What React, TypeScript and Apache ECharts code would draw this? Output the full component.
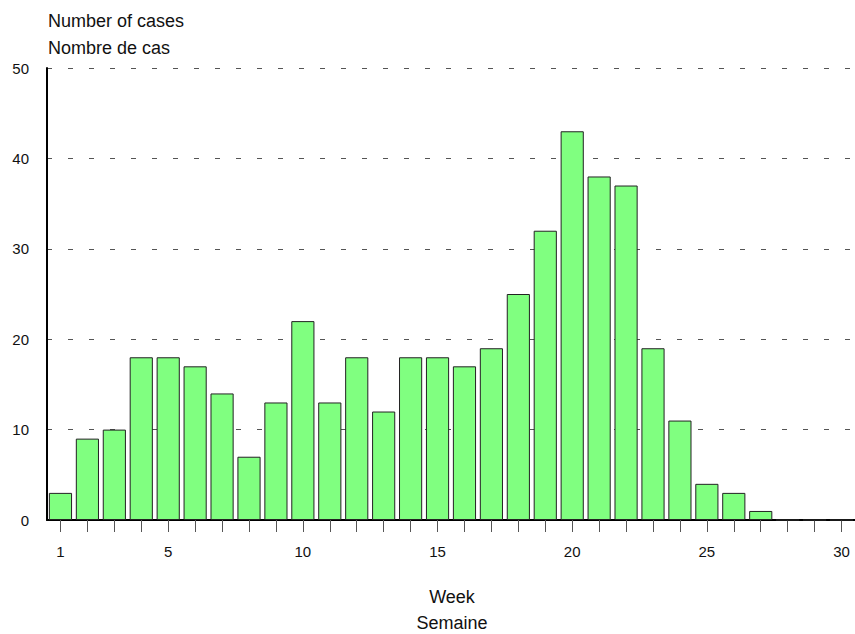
import React, { useEffect, useRef } from "react";
import * as echarts from "echarts";

const weeks = Array.from({ length: 30 }, (_, i) => String(i + 1));
const cases = [3, 9, 10, 18, 18, 17, 14, 7, 13, 22, 13, 18, 12, 18, 18, 17, 19, 25, 32, 43, 38, 37, 19, 11, 4, 3, 1, 0, 0, 0];
const shownLabels = ["1", "5", "10", "15", "20", "25", "30"];
const yTitleLines = ["Number of cases", "Nombre de cas"];
const xTitleLines = ["Week", "Semaine"];

const FONT = "Liberation Sans, Arial, sans-serif";

export default function App() {
  const ref = useRef<HTMLDivElement>(null);
  useEffect(() => {
    if (!ref.current) return;
    const chart = echarts.init(ref.current, null, { renderer: "svg" });
    chart.setOption({
      animation: false,
      backgroundColor: "#ffffff",
      grid: { left: 47, right: 0, top: 68, bottom: 114, containLabel: false },
      graphic: [
        { type: "text", x: 48, y: 21, style: { text: yTitleLines[0], font: `18px ${FONT}`, fill: "#111", verticalAlign: "middle" } },
        { type: "text", x: 48, y: 48, style: { text: yTitleLines[1], font: `18px ${FONT}`, fill: "#111", verticalAlign: "middle" } },
        { type: "text", x: 452, y: 597, style: { text: xTitleLines[0], font: `18px ${FONT}`, fill: "#111", align: "center", verticalAlign: "middle" } },
        { type: "text", x: 452, y: 623, style: { text: xTitleLines[1], font: `18px ${FONT}`, fill: "#111", align: "center", verticalAlign: "middle" } },
      ],
      xAxis: {
        type: "category",
        data: weeks,
        boundaryGap: true,
        axisLine: { show: true, lineStyle: { color: "#000", width: 2 } },
        axisTick: { show: true, alignWithLabel: true, interval: 0, length: 12, inside: false, lineStyle: { color: "#555", width: 1 } },
        axisLabel: {
          interval: (_i: number, v: string) => shownLabels.includes(v),
          margin: 24,
          fontSize: 15,
          fontFamily: FONT,
          color: "#111",
        },
        splitLine: { show: false },
      },
      yAxis: {
        type: "value",
        min: 0,
        max: 50,
        interval: 10,
        axisLine: { show: true, lineStyle: { color: "#000", width: 2 } },
        axisTick: { show: false },
        axisLabel: { margin: 18, fontSize: 15, fontFamily: FONT, color: "#111" },
        splitLine: { show: true, lineStyle: { color: "#555", width: 1, type: [5, 16] } },
      },
      series: [
        {
          type: "bar",
          data: cases,
          barWidth: "86%",
          itemStyle: { color: "#80FF80", borderColor: "#222", borderWidth: 1 },
        },
      ],
    });
    return () => chart.dispose();
  }, []);
  return <div ref={ref} style={{ width: 855, height: 634, position: "absolute", left: 0, top: 0 }} />;
}
